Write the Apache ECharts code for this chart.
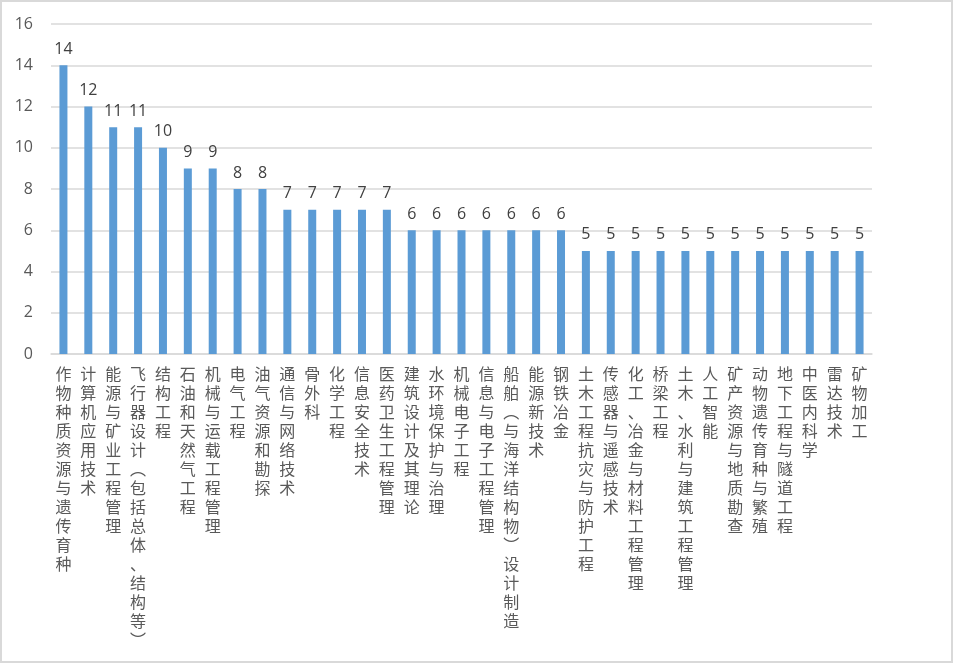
<!DOCTYPE html>
<html>
<head>
<meta charset="utf-8">
<script src="https://cdn.jsdelivr.net/npm/echarts@6/dist/echarts.min.js"></script>
<style>
html,body{margin:0;padding:0;background:#fff;}
#chart{width:953px;height:663px;}
</style>
</head>
<body>
<div id="chart"></div>
<script>
const categories = [
  '作物种质资源与遗传育种','计算机应用技术','能源与矿业工程管理','飞行器设计（包括总体、结构等）',
  '结构工程','石油和天然气工程','机械与运载工程管理','电气工程','油气资源和勘探',
  '通信与网络技术','骨外科','化学工程','信息安全技术','医药卫生工程管理',
  '建筑设计及其理论','水环境保护与治理','机械电子工程','信息与电子工程管理',
  '船舶（与海洋结构物）设计制造','能源新技术','钢铁冶金',
  '土木工程抗灾与防护工程','传感器与遥感技术','化工、冶金与材料工程管理','桥梁工程',
  '土木、水利与建筑工程管理','人工智能','矿产资源与地质勘查','动物遗传育种与繁殖',
  '地下工程与隧道工程','中医内科学','雷达技术','矿物加工'
];
const values = [14,12,11,11,10,9,9,8,8,7,7,7,7,7,6,6,6,6,6,6,6,5,5,5,5,5,5,5,5,5,5,5,5];
const yTicks = {min:0, max:16, interval:2};

const chart = echarts.init(document.getElementById('chart'));
const fontFam = '"Noto Sans CJK SC","Noto Sans",sans-serif';
chart.setOption({
  animation:false,
  backgroundColor:'#fff',
  graphic:[{type:'rect',shape:{x:1,y:1,width:951,height:661},style:{fill:'none',stroke:'#D9D9D9',lineWidth:2},z:-1}],
  grid:{left:51,right:81,top:24,bottom:309},
  xAxis:{
    type:'category',data:categories,
    axisLine:{lineStyle:{color:'#D9D9D9',width:1.5}},
    axisTick:{show:false},
    axisLabel:{
      interval:0,margin:10,color:'#595959',fontSize:16,lineHeight:19,
      fontFamily:fontFam,verticalAlign:'top',
      formatter:function(v){return v.replace(/（/g,'︵').replace(/）/g,'︶').split('').join('\n');}
    }
  },
  yAxis:{
    type:'value',min:yTicks.min,max:yTicks.max,interval:yTicks.interval,
    axisLine:{show:false},axisTick:{show:false},
    splitLine:{lineStyle:{color:'#D9D9D9',width:1.5}},
    axisLabel:{color:'#595959',fontSize:16,fontFamily:'"Open Sans",sans-serif',margin:18}
  },
  series:[{
    type:'bar',data:values,barWidth:8,
    itemStyle:{color:'#5B9BD5'},
    label:{show:true,position:'top',distance:8,color:'#404040',fontSize:16,fontFamily:'"Open Sans",sans-serif'}
  }]
});
</script>
</body>
</html>
